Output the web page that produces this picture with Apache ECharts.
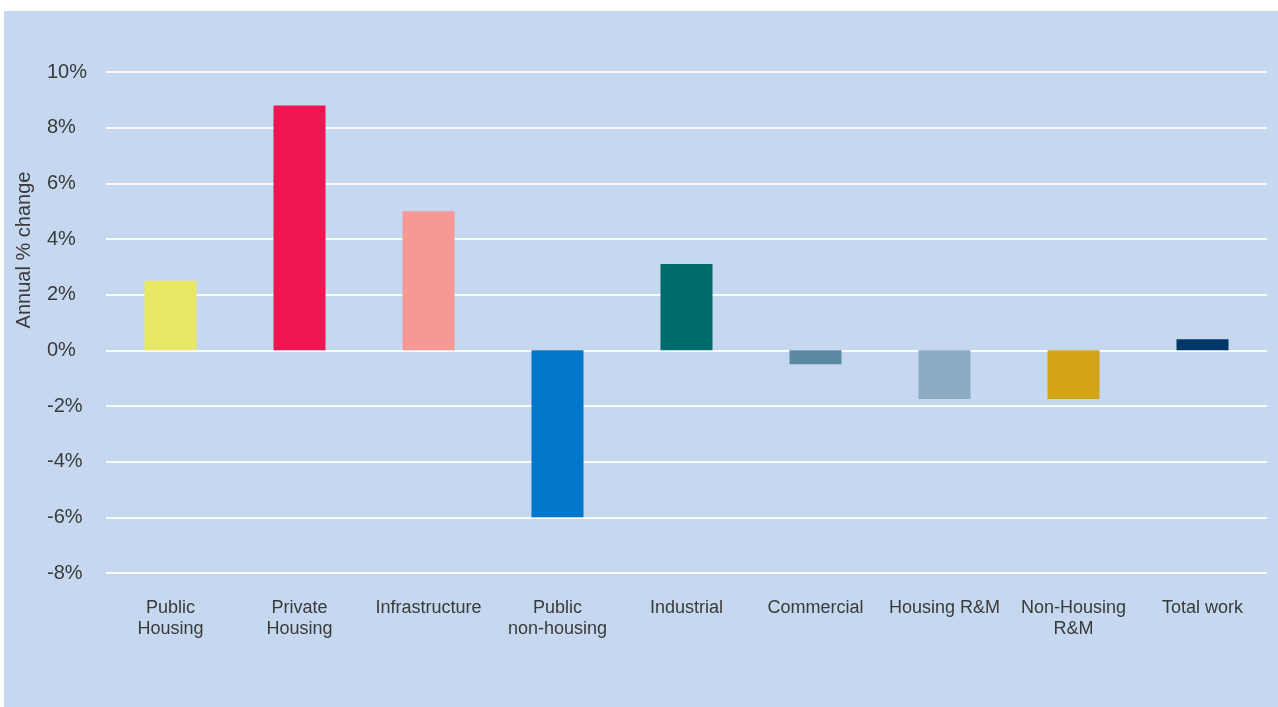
<!DOCTYPE html>
<html>
<head>
<meta charset="utf-8">
<script src="https://cdn.jsdelivr.net/npm/echarts@6/dist/echarts.min.js"></script>
<style>
  html, body { margin: 0; padding: 0; background: #ffffff; }
  #bg { position: absolute; left: 4px; top: 11px; right: 0; bottom: 0; background: #c5d8ef; }
  #chart { position: absolute; left: 0; top: 0; width: 1278px; height: 707px; }
</style>
</head>
<body>
<div id="bg"></div>
<div id="chart"></div>
<script>
const categories = ['Public\nHousing', 'Private\nHousing', 'Infrastructure', 'Public\nnon-housing', 'Industrial', 'Commercial', 'Housing R&M', 'Non-Housing\nR&M', 'Total work'];
const values = [2.5, 8.8, 5.0, -6.0, 3.1, -0.5, -1.75, -1.75, 0.4];
const barColors = ['#e9e866', '#ee1550', '#f59896', '#0077c8', '#006b6c', '#5b89a3', '#8caac1', '#d4a418', '#003767'];
const yTicks = { min: -8, max: 10, interval: 2 };
const yAxisName = 'Annual % change';

const chart = echarts.init(document.getElementById('chart'));
chart.setOption({
  backgroundColor: 'transparent',
  animation: false,
  textStyle: { fontFamily: 'Liberation Sans, Arial, sans-serif' },
  grid: { left: 106, right: 11, top: 72, bottom: 134, containLabel: false, outerBoundsMode: 'none' },
  xAxis: {
    type: 'category',
    data: categories,
    axisLine: { show: false },
    axisTick: { show: false },
    axisLabel: {
      color: '#3a3a3a',
      fontSize: 18,
      lineHeight: 21,
      margin: 25,
      interval: 0
    }
  },
  yAxis: {
    type: 'value',
    min: yTicks.min,
    max: yTicks.max,
    interval: yTicks.interval,
    name: yAxisName,
    nameLocation: 'middle',
    nameRotate: 90,
    nameGap: 72,
    nameTextStyle: { color: '#3a3a3a', fontSize: 20, padding: [0, 0, 0, 145] },
    axisLine: { show: false },
    axisTick: { show: false },
    axisLabel: {
      formatter: '{value}%',
      color: '#3a3a3a',
      fontSize: 20,
      align: 'left',
      margin: 59
    },
    splitLine: { lineStyle: { color: 'rgba(255,255,255,0.9)', width: 2 } }
  },
  series: [{
    type: 'bar',
    barWidth: 52,
    data: values.map((v, i) => ({ value: v, itemStyle: { color: barColors[i] } }))
  }]
});
</script>
</body>
</html>
